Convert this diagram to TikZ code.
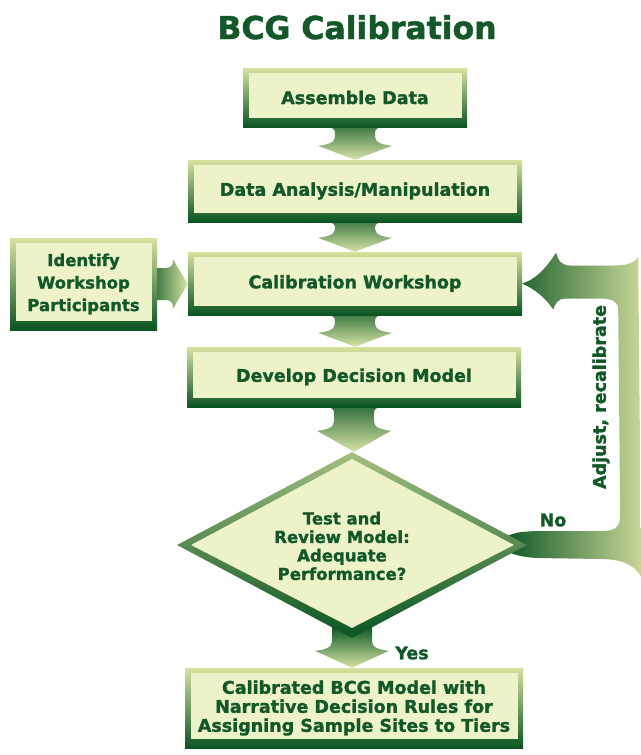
\documentclass[tikz,border=0pt]{standalone}
\usepackage{fontspec}
\setmainfont{DejaVu Sans}[BoldFeatures={FakeBold=1.5}]
\usetikzlibrary{shapes.geometric,calc}
\pgfdeclarelayer{bg}
\pgfsetlayers{bg,main}
\definecolor{dkg}{RGB}{10,85,35}
\definecolor{txtg}{RGB}{18,88,40}
\definecolor{cream}{RGB}{238,242,200}
\definecolor{frlight}{RGB}{214,226,158}
\definecolor{arrlt}{RGB}{215,228,165}
\definecolor{fblt}{RGB}{200,215,150}
\newcommand\varrow[4]{%
 \coordinate (vS) at (#1.south);
 \coordinate (vT) at (#1.south |- #2.north);
 \shade[top color=dkg, bottom color=arrlt]
  ($(vS)+(-#4,-12)$) -- ($(vS)+(-#4,0)$) .. controls ($(vS)+(-20,3)$) .. ($(vS)+(-20,8)$)
  -- ($(vT)+(-20,-#3-8)$) .. controls ($(vT)+(-20,-#3-2)$) and ($(vT)+(-28,-#3)$) .. ($(vT)+(-37,-#3+1)$)
  -- (vT) -- ($(vT)+(37,-#3+1)$) .. controls ($(vT)+(28,-#3)$) and ($(vT)+(20,-#3-2)$) .. ($(vT)+(20,-#3-8)$)
  -- ($(vS)+(20,8)$) .. controls ($(vS)+(20,3)$) .. ($(vS)+(#4,0)$) -- ($(vS)+(#4,-12)$) -- cycle;}
\tikzset{
 gbox/.style={rectangle, inner sep=0pt, top color=frlight, bottom color=dkg, text=txtg, align=center,
   font=\bfseries\fontsize{17.5}{20.5}\selectfont,
   path picture={\fill[cream] ([shift={(6pt,9pt)}]path picture bounding box.south west) rectangle ([shift={(-5pt,-5pt)}]path picture bounding box.north east);}},
 lbl/.style={text=txtg, font=\bfseries\fontsize{17.5}{20}\selectfont, inner sep=0pt}
}
\begin{document}
\begin{tikzpicture}[x=1pt,y=-1pt]
\useasboundingbox (0,0) rectangle (640,755);
\node[lbl, font=\bfseries\fontsize{31.5}{34}\selectfont, anchor=base] (title) at (357,39) {BCG Calibration};
\node[gbox, minimum width=224, minimum height=59] (asm) at (355,97.5) {Assemble Data};
\node[gbox, minimum width=334, minimum height=62] (dat) at (355,191) {Data Analysis/Manipulation};
\node[gbox, minimum width=334, minimum height=63] (cal) at (355,283.5) {Calibration Workshop};
\node[gbox, minimum width=334, minimum height=60] (dev) at (354,377) {Develop Decision Model};
\node[gbox, minimum width=147, minimum height=92, font=\bfseries\fontsize{16.5}{22.5}\selectfont] (idw) at (83.5,284) {Identify\\Workshop\\Participants};
\node[diamond, inner sep=0pt, minimum width=350, minimum height=186, top color=frlight!75!dkg, bottom color=dkg,
  path picture={\fill[cream] ($(path picture bounding box.west)+(14,0)$) -- ($(path picture bounding box.north)+(0,7)$)
   -- ($(path picture bounding box.east)+(-13,0)$) -- ($(path picture bounding box.south)+(0,-10)$) -- cycle;}] (dia) at (352,545) {};
\node[lbl, align=center, font=\bfseries\fontsize{16.5}{18.5}\selectfont] (diatx) at (342,546) {Test and\\Review Model:\\Adequate\\Performance?};
\node[gbox, minimum width=338, minimum height=80, font=\bfseries\fontsize{17.5}{19}\selectfont] (fin) at (354,708) {Calibrated BCG Model with\\Narrative Decision Rules for\\Assigning Sample Sites to Tiers};
\node[lbl] (yes) at (412,653) {Yes};
\node[lbl] (no) at (553,520) {No};
\node[lbl, rotate=90] (adj) at (601,397) {Adjust, recalibrate};
\begin{pgfonlayer}{bg}
\fill[white] (0,0) rectangle (640,755);
\varrow{asm}{dat}{15}{24}
\varrow{dat}{cal}{15}{24}
\varrow{cal}{dev}{15}{24}
\varrow{dev}{dia}{22}{24}
\varrow{dia}{fin}{18}{20}
% horizontal arrow
\coordinate (hS) at (idw.east);
\coordinate (hT) at (idw.east -| cal.west);
\shade[left color=dkg, right color=arrlt]
 ($(hS)+(-12,-16)$) -- ($(hT)+(-22,-16)$) .. controls ($(hT)+(-16,-16)$) and ($(hT)+(-14,-20)$) .. ($(hT)+(-15,-25)$)
 -- (hT) -- ($(hT)+(-15,25)$) .. controls ($(hT)+(-14,20)$) and ($(hT)+(-16,16)$) .. ($(hT)+(-22,16)$)
 -- ($(hS)+(-12,16)$) -- cycle;
% feedback band
\coordinate (fbS) at (dia.east);
\coordinate (fbE) at (cal.east);
\shade[left color=dkg, right color=fblt]
 ($(fbS)+(-25,-7)$) .. controls ($(fbS)+(-10,-13)$) .. ($(fbS)+(10,-14)$) -- ($(fbS)+(75,-14)$)
 .. controls ($(fbS)+(89,-14)$) and ($(fbS)+(93,-19)$) .. ($(fbS)+(93,-30)$)
 -- ($(fbE)+(96,26)$) .. controls ($(fbE)+(96,18)$) and ($(fbE)+(90,15)$) .. ($(fbE)+(78,15)$)
 -- ($(fbE)+(43,15)$) .. controls ($(fbE)+(36,15)$) and ($(fbE)+(33,20)$) .. ($(fbE)+(31,26)$)
 .. controls ($(fbE)+(23,14)$) and ($(fbE)+(13,6)$) .. (fbE)
 .. controls ($(fbE)+(13,-4)$) and ($(fbE)+(23,-14)$) .. ($(fbE)+(34,-31)$)
 .. controls ($(fbE)+(36,-22)$) and ($(fbE)+(40,-18)$) .. ($(fbE)+(48,-18)$)
 -- ($(fbE)+(92,-18)$) .. controls ($(fbE)+(106,-18)$) and ($(fbE)+(113,-21)$) .. ($(fbE)+(116,-27)$)
 -- ($(fbS)+(114,32)$) .. controls ($(fbS)+(106,18)$) and ($(fbS)+(92,14)$) .. ($(fbS)+(72,14)$)
 -- ($(fbS)+(10,13)$) .. controls ($(fbS)+(-10,12)$) and ($(fbS)+(-20,7)$) .. ($(fbS)+(-25,4)$) -- cycle;
\end{pgfonlayer}
\end{tikzpicture}
\end{document}
